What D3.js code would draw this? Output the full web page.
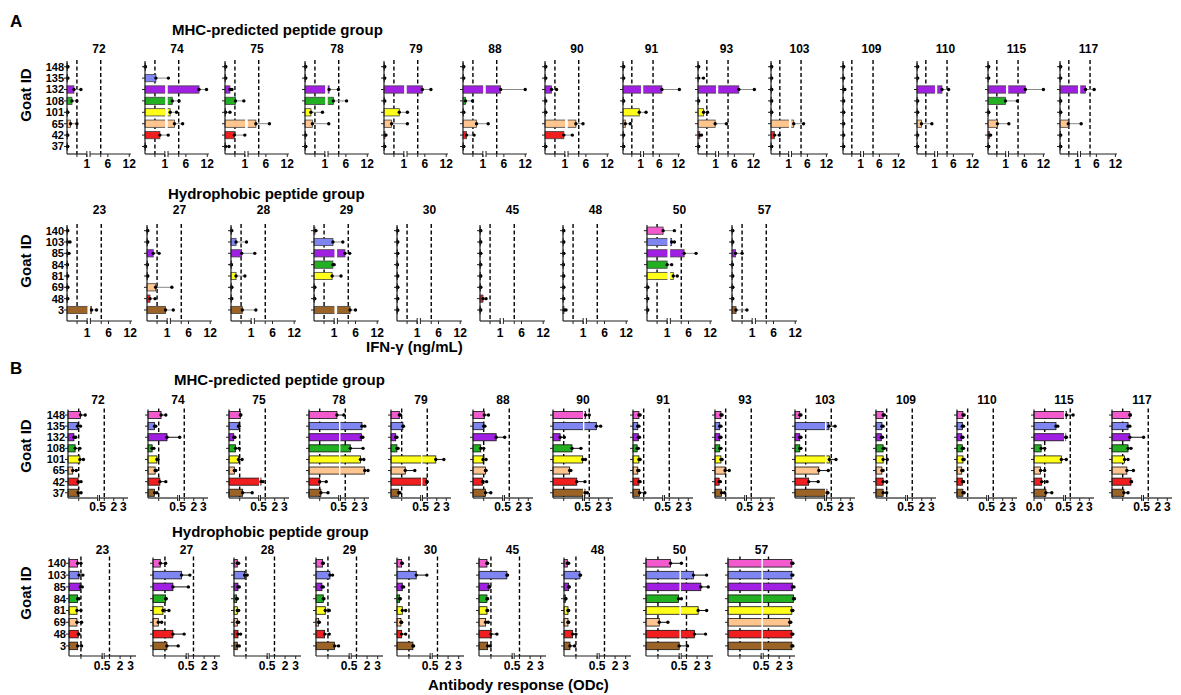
<!DOCTYPE html>
<html>
<head>
<meta charset="utf-8">
<script src="https://cdn.jsdelivr.net/npm/d3@7"></script>
<style>
  body { margin: 0; background: #fff; }
  svg { font-family: Arial, "Liberation Sans", sans-serif; font-weight: bold; }
</style>
</head>
<body>
<svg id="fig" width="1181" height="695"></svg>
<script>
// ---- data ----
const goatsMhc = ["148", "135", "132", "108", "101", "65", "42", "37"]
const goatsHydro = ["140", "103", "85", "84", "81", "69", "48", "3"]
const pepMhc = ["72", "74", "75", "78", "79", "88", "90", "91", "93", "103", "109", "110", "115", "117"]
const pepHydro = ["23", "27", "28", "29", "30", "45", "48", "50", "57"]

const ifnTicks = [1, 6, 12]
const ifnTickLabels = ["1", "6", "12"]
const ifnCutoffs = [0.5, 4]
const odTicks = [0.5, 2, 3]
const odTickLabels = ["0.5", "2", "3"]
const odCutoffs = [0.18, 1.0]
const odZeroLabel = ["115"]

// IFN-γ (ng/mL), one row per peptide, goats in goatsMhc order
const ifnMhcMean = [
  [0.02, 0.02, 0.35, 0.25, 0.02, 0.18, 0.02, 0.02],
  [0.01, 0.55, 9.7, 2.2, 1.6, 2.8, 0.75, 0.01],
  [0.02, 0.02, 0.25, 0.53, 0.03, 3.2, 0.47, 0.03],
  [0.02, 0.02, 1.3, 2.5, 0.3, 0.37, 0.02, 0.02],
  [0.02, 0.02, 5.3, 0.02, 0.77, 0.38, 0.05, 0.02],
  [0.02, 0.02, 5.1, 0.13, 0.02, 0.68, 0.18, 0.02],
  [0.02, 0.02, 0.33, 0.02, 0.02, 3.2, 0.95, 0.02],
  [0.02, 0.02, 6.8, 0.02, 0.92, 0.13, 0.02, 0.02],
  [0.02, 0.03, 7.4, 0.02, 0.32, 0.97, 0.1, 0.02],
  [0.02, 0.02, 0.02, 0.02, 0.02, 1.7, 0.2, 0.02],
  [0.02, 0.02, 0.04, 0.02, 0.02, 0.02, 0.02, 0.02],
  [0.02, 0.02, 2.4, 0.02, 0.02, 0.25, 0.02, 0.02],
  [0.02, 0.02, 6.3, 0.99, 0.02, 0.53, 0.08, 0.02],
  [0.02, 0.02, 2.6, 0.02, 0.02, 0.47, 0.02, 0.02]
]
const ifnMhcHi = [
  [0.05, 0.05, 0.7, 0.5, 0.04, 0.5, 0.04, 0.04],
  [0.02, 1.1, 11.8, 4.1, 3.4, 5.1, 1.05, 0.02],
  [0.04, 0.04, 0.35, 0.95, 0.25, 7.0, 1.0, 0.2],
  [0.04, 0.04, 3.9, 6.2, 0.88, 1.2, 0.04, 0.04],
  [0.04, 0.04, 7.7, 0.04, 1.1, 1.1, 0.1, 0.04],
  [0.04, 0.04, 12, 0.48, 0.04, 1.6, 0.56, 0.04],
  [0.04, 0.04, 0.58, 0.04, 0.04, 5.2, 2.2, 0.04],
  [0.04, 0.04, 12.3, 0.04, 1.8, 0.41, 0.04, 0.04],
  [0.04, 0.31, 12.3, 0.04, 0.54, 3.5, 0.2, 0.04],
  [0.04, 0.04, 0.04, 0.04, 0.04, 4.8, 0.47, 0.04],
  [0.04, 0.04, 0.1, 0.04, 0.04, 0.04, 0.04, 0.04],
  [0.04, 0.04, 4.5, 0.04, 0.04, 0.84, 0.04, 0.04],
  [0.04, 0.04, 12, 3.8, 0.04, 1.1, 0.15, 0.04],
  [0.04, 0.04, 5.3, 0.04, 0.04, 1.2, 0.04, 0.04]
]
const ifnHydroMean = [
  [0.02, 0.03, 0.03, 0.01, 0.02, 0.02, 0.02, 1.3],
  [0.02, 0.02, 0.31, 0.01, 0.02, 0.43, 0.15, 0.92],
  [0.02, 0.25, 0.53, 0.01, 0.25, 0.02, 0.02, 0.56],
  [0.05, 0.94, 3.1, 0.94, 0.9, 0.02, 0.02, 4.5],
  [0.02, 0.02, 0.02, 0.01, 0.02, 0.02, 0.02, 0.02],
  [0.02, 0.02, 0.02, 0.02, 0.02, 0.02, 0.15, 0.02],
  [0.02, 0.02, 0.02, 0.01, 0.02, 0.02, 0.02, 0.05],
  [0.8, 1.35, 4.8, 1.0, 1.8, 0.02, 0.02, 0.02],
  [0.02, 0.02, 0.18, 0.01, 0.02, 0.02, 0.02, 0.2]
]
const ifnHydroHi = [
  [0.04, 0.15, 0.1, 0.02, 0.04, 0.04, 0.04, 2.7],
  [0.04, 0.04, 0.6, 0.02, 0.04, 1.4, 0.4, 1.8],
  [0.04, 0.77, 1.1, 0.02, 0.69, 0.04, 0.04, 1.4],
  [0.1, 2.5, 4.4, 1.0, 2.0, 0.04, 0.04, 6.0],
  [0.04, 0.04, 0.04, 0.02, 0.04, 0.04, 0.04, 0.04],
  [0.04, 0.04, 0.04, 0.04, 0.04, 0.04, 0.3, 0.04],
  [0.04, 0.04, 0.04, 0.02, 0.04, 0.04, 0.04, 0.15],
  [2.1, 2.1, 8.1, 1.35, 2.9, 0.04, 0.04, 0.04],
  [0.04, 0.04, 0.5, 0.02, 0.04, 0.04, 0.04, 0.74]
]

// Antibody response (ODc)
const odMhcMean = [
  [0.21, 0.16, 0.1, 0.12, 0.2, 0.08, 0.17, 0.17],
  [0.22, 0.11, 0.32, 0.07, 0.15, 0.12, 0.2, 0.11],
  [0.19, 0.16, 0.08, 0.11, 0.16, 0.09, 0.55, 0.23],
  [0.47, 2.76, 2.7, 1.54, 2.6, 3.05, 0.18, 0.2],
  [0.14, 0.2, 0.08, 0.1, 1.9, 0.24, 0.94, 0.13],
  [0.19, 0.18, 0.39, 0.13, 0.17, 0.21, 0.16, 0.21],
  [0.6, 1.75, 0.12, 0.32, 0.5, 0.28, 0.4, 0.55],
  [0.1, 0.08, 0.09, 0.07, 0.1, 0.08, 0.1, 0.11],
  [0.1, 0.08, 0.08, 0.08, 0.1, 0.17, 0.07, 0.11],
  [0.08, 0.75, 0.08, 0.08, 0.8, 0.4, 0.23, 0.55],
  [0.12, 0.1, 0.09, 0.12, 0.12, 0.1, 0.12, 0.12],
  [0.1, 0.09, 0.08, 0.09, 0.1, 0.08, 0.09, 0.1],
  [0.6, 0.37, 0.52, 0.12, 0.46, 0.11, 0.13, 0.2],
  [0.3, 0.27, 0.3, 0.27, 0.21, 0.25, 0.32, 0.2]
]
const odMhcHi = [
  [0.29, 0.21, 0.13, 0.2, 0.26, 0.14, 0.22, 0.22],
  [0.3, 0.13, 0.52, 0.1, 0.17, 0.14, 0.3, 0.15],
  [0.2, 0.17, 0.1, 0.17, 0.22, 0.11, 0.76, 0.39],
  [0.85, 3.05, 2.85, 2.87, 2.95, 3.4, 0.29, 0.32],
  [0.16, 0.21, 0.1, 0.12, 2.75, 0.4, 1.0, 0.15],
  [0.26, 0.2, 0.52, 0.18, 0.22, 0.22, 0.23, 0.3],
  [1.0, 2.2, 0.19, 0.47, 0.6, 0.3, 0.55, 0.8],
  [0.12, 0.1, 0.11, 0.09, 0.12, 0.1, 0.12, 0.2],
  [0.12, 0.1, 0.1, 0.1, 0.12, 0.24, 0.09, 0.16],
  [0.1, 1.4, 0.1, 0.1, 1.5, 0.69, 0.39, 0.65],
  [0.14, 0.12, 0.11, 0.14, 0.19, 0.12, 0.18, 0.18],
  [0.12, 0.11, 0.1, 0.11, 0.12, 0.1, 0.11, 0.12],
  [1.3, 0.4, 0.6, 0.18, 0.58, 0.18, 0.22, 0.3],
  [0.31, 0.3, 0.51, 0.32, 0.27, 0.36, 0.33, 0.27]
]
const odHydroMean = [
  [0.13, 0.15, 0.17, 0.13, 0.12, 0.12, 0.14, 0.13],
  [0.11, 0.43, 0.3, 0.19, 0.15, 0.08, 0.3, 0.21],
  [0.05, 0.16, 0.06, 0.04, 0.05, 0.05, 0.06, 0.05],
  [0.1, 0.21, 0.09, 0.11, 0.14, 0.04, 0.13, 0.28],
  [0.07, 0.29, 0.08, 0.04, 0.08, 0.06, 0.07, 0.24],
  [0.12, 0.42, 0.15, 0.12, 0.12, 0.1, 0.18, 0.13],
  [0.05, 0.24, 0.07, 0.02, 0.06, 0.06, 0.13, 0.09],
  [0.37, 1.65, 2.35, 0.49, 2.1, 0.2, 1.75, 0.5],
  [3.2, 3.2, 3.25, 3.35, 3.2, 3.0, 3.2, 3.2]
]
const odHydroHi = [
  [0.18, 0.21, 0.2, 0.15, 0.18, 0.19, 0.15, 0.19],
  [0.19, 0.66, 0.52, 0.2, 0.24, 0.13, 0.47, 0.38],
  [0.07, 0.2, 0.08, 0.05, 0.07, 0.07, 0.1, 0.08],
  [0.11, 0.25, 0.11, 0.12, 0.2, 0.05, 0.2, 0.34],
  [0.08, 0.45, 0.1, 0.05, 0.13, 0.07, 0.13, 0.25],
  [0.13, 0.43, 0.16, 0.13, 0.13, 0.14, 0.27, 0.17],
  [0.07, 0.25, 0.08, 0.03, 0.07, 0.07, 0.18, 0.16],
  [0.52, 2.9, 3.05, 0.52, 2.9, 0.33, 2.8, 1.1],
  [3.3, 3.3, 3.4, 3.45, 3.3, 3.1, 3.3, 3.3]
]

const goatColors = ["#f25acd", "#7f86f2", "#a01fe3", "#22b022", "#ffff1a", "#ffc58e", "#f01e1e", "#9b6326"]

// ---- layout ----
const svg = d3.select('#fig')

const groups = [
  { peps: pepMhc, goats: goatsMhc, mean: ifnMhcMean, hi: ifnMhcHi,
    xs: [67, 145, 225, 305, 384, 463, 545, 623, 698, 771, 843, 917, 988, 1060],
    ws: [64, 64, 64, 64, 64, 64, 64, 57, 57, 57, 57, 57, 57, 57],
    top: 61, step: 11.4, axisY: 154, titleY: 53, tickY: 168,
    brk: 1, max: 12.5, f1: 0.31, f2: 0.36, ticks: ifnTicks, tickLabels: ifnTickLabels,
    cut: ifnCutoffs, err: '#8a8a8a', stroke: '#444' },
  { peps: pepHydro, goats: goatsHydro, mean: ifnHydroMean, hi: ifnHydroHi,
    xs: [67, 147, 231, 314, 397, 480, 563, 647, 732],
    ws: [65, 65, 65, 65, 65, 65, 65, 65, 65],
    top: 225, step: 11.33, axisY: 321, titleY: 214, tickY: 336.5,
    brk: 1, max: 12.5, f1: 0.31, f2: 0.36, ticks: ifnTicks, tickLabels: ifnTickLabels,
    cut: ifnCutoffs, err: '#8a8a8a', stroke: '#444' },
  { peps: pepMhc, goats: goatsMhc, mean: odMhcMean, hi: odMhcHi,
    xs: [68, 148, 229, 309, 391, 473, 553, 633, 715, 795, 876, 957, 1034, 1112],
    ws: [60, 60, 60, 60, 60, 60, 60, 60, 60, 60, 60, 60, 60, 60],
    top: 409.5, step: 11.1, axisY: 498, titleY: 403.5, tickY: 511,
    brk: 0.5, max: 3.5, f1: 0.495, f2: 0.525, ticks: odTicks, tickLabels: odTickLabels,
    cut: odCutoffs, err: '#111', stroke: '#111', zero: odZeroLabel },
  { peps: pepHydro, goats: goatsHydro, mean: odHydroMean, hi: odHydroHi,
    xs: [69, 153, 234, 316, 397, 479, 564, 646, 728],
    ws: [67, 67, 67, 67, 67, 67, 67, 67, 67],
    top: 557.4, step: 11.8, axisY: 656, titleY: 553.5, tickY: 670,
    brk: 0.5, max: 3.5, f1: 0.495, f2: 0.525, ticks: odTicks, tickLabels: odTickLabels,
    cut: odCutoffs, err: '#111', stroke: '#111', zero: odZeroLabel }
]

groups.forEach(cfg => {
  const yScale = d3.scaleBand()
    .domain(cfg.goats)
    .range([cfg.top, cfg.top + cfg.step * cfg.goats.length])
    .paddingInner(0.36)
    .paddingOuter(0.18)
  const bh = yScale.bandwidth()

  cfg.peps.forEach((pep, p) => {
    const x0 = cfg.xs[p], w = cfg.ws[p]
    const xa = d3.scaleLinear().domain([0, cfg.brk]).range([x0, x0 + w * cfg.f1])
    const xb = d3.scaleLinear().domain([cfg.brk, cfg.max]).range([x0 + w * cfg.f2, x0 + w])
    const x = v => v <= cfg.brk ? xa(v) : xb(v)
    const g = svg.append('g')

    // title
    g.append('text')
      .attr('x', x0 + w / 2).attr('y', cfg.titleY)
      .attr('text-anchor', 'middle').attr('font-size', 12)
      .text(pep)

    // dashed cutoff lines
    g.selectAll('line.cut').data(cfg.cut).join('line')
      .attr('class', 'cut')
      .attr('x1', d => x(d)).attr('x2', d => x(d))
      .attr('y1', cfg.top - 1).attr('y2', cfg.axisY)
      .attr('stroke', '#000').attr('stroke-width', 1.4)
      .attr('stroke-dasharray', '4,2.5')

    const rows = cfg.goats.map((goat, i) => ({ goat, i, m: cfg.mean[p][i], h: cfg.hi[p][i] }))

    // error whiskers
    g.selectAll('line.err').data(rows).join('line')
      .attr('class', 'err')
      .attr('x1', d => x(d.m)).attr('x2', d => x(d.h))
      .attr('y1', d => yScale(d.goat) + bh / 2).attr('y2', d => yScale(d.goat) + bh / 2)
      .attr('stroke', cfg.err).attr('stroke-width', 1)

    // bars
    g.selectAll('rect.bar').data(rows).join('rect')
      .attr('class', 'bar')
      .attr('x', x0)
      .attr('y', d => yScale(d.goat))
      .attr('width', d => Math.max(0.6, x(d.m) - x0))
      .attr('height', bh)
      .attr('fill', d => goatColors[d.i])
      .attr('stroke', cfg.stroke).attr('stroke-width', 0.8)

    // white gap where bars cross the axis break
    g.selectAll('rect.gap').data(rows.filter(d => d.m > cfg.brk)).join('rect')
      .attr('class', 'gap')
      .attr('x', xa(cfg.brk) + 0.3)
      .attr('y', d => yScale(d.goat) - 1)
      .attr('width', Math.max(1.4, xb(cfg.brk) - xa(cfg.brk) - 0.6))
      .attr('height', bh + 2)
      .attr('fill', '#fff')

    // points
    const pts = rows.flatMap(d => [{ d, v: d.m }, { d, v: d.h }])
    g.selectAll('circle.pt').data(pts).join('circle')
      .attr('class', 'pt')
      .attr('cx', q => x(q.v))
      .attr('cy', q => yScale(q.d.goat) + bh / 2)
      .attr('r', 1.7)
      .attr('fill', '#000')

    // y axis + ticks
    g.append('line')
      .attr('x1', x0).attr('x2', x0)
      .attr('y1', cfg.top).attr('y2', cfg.axisY)
      .attr('stroke', '#222').attr('stroke-width', 1.2)
    g.selectAll('line.ytick').data(cfg.goats).join('line')
      .attr('class', 'ytick')
      .attr('x1', x0 - 3).attr('x2', x0)
      .attr('y1', d => yScale(d) + bh / 2).attr('y2', d => yScale(d) + bh / 2)
      .attr('stroke', '#222').attr('stroke-width', 1)

    // broken x axis
    const segs = [[x0, xa(cfg.brk)], [xb(cfg.brk), x0 + w]]
    g.selectAll('line.xseg').data(segs).join('line')
      .attr('class', 'xseg')
      .attr('x1', d => d[0]).attr('x2', d => d[1])
      .attr('y1', cfg.axisY).attr('y2', cfg.axisY)
      .attr('stroke', '#222').attr('stroke-width', 1.2)
    g.selectAll('line.brk').data([xa(cfg.brk), xb(cfg.brk)]).join('line')
      .attr('class', 'brk')
      .attr('x1', d => d).attr('x2', d => d)
      .attr('y1', cfg.axisY - 3).attr('y2', cfg.axisY + 3)
      .attr('stroke', '#222').attr('stroke-width', 1)

    let tickVals = cfg.ticks.slice()
    let tickLabs = cfg.tickLabels.slice()
    if (cfg.zero && cfg.zero.includes(pep)) { tickVals.unshift(0); tickLabs.unshift("0.0") }
    g.selectAll('line.xtick').data(tickVals.concat(cfg.cut)).join('line')
      .attr('class', 'xtick')
      .attr('x1', d => x(d)).attr('x2', d => x(d))
      .attr('y1', cfg.axisY).attr('y2', cfg.axisY + 3)
      .attr('stroke', '#222').attr('stroke-width', 1)
    g.selectAll('text.xlab').data(tickVals).join('text')
      .attr('class', 'xlab')
      .attr('x', d => x(d)).attr('y', cfg.tickY)
      .attr('text-anchor', 'middle').attr('font-size', 12)
      .text((d, i) => tickLabs[i])

    // goat labels on the first panel of a row
    if (p === 0) {
      g.selectAll('text.goat').data(cfg.goats).join('text')
        .attr('class', 'goat')
        .attr('x', x0 - 3).attr('y', d => yScale(d) + bh / 2 + 3.9)
        .attr('text-anchor', 'end').attr('font-size', 11)
        .text(d => d)
    }
  })
})

// ---- text ----
const labels = [
  { t: "A", x: 10, y: 27, s: 17 },
  { t: "B", x: 10, y: 374, s: 17 },
  { t: "MHC-predicted peptide group", x: 172, y: 35, s: 15 },
  { t: "Hydrophobic peptide group", x: 168, y: 199, s: 15 },
  { t: "MHC-predicted peptide group", x: 174, y: 385, s: 15 },
  { t: "Hydrophobic peptide group", x: 172, y: 537, s: 15 },
  { t: "IFN-γ (ng/mL)", x: 366, y: 352, s: 15 },
  { t: "Antibody response (ODc)", x: 428, y: 690, s: 15 }
]
svg.selectAll('text.lab').data(labels).join('text')
  .attr('class', 'lab')
  .attr('x', d => d.x).attr('y', d => d.y)
  .attr('font-size', d => d.s)
  .text(d => d.t)

const goatTitles = [95, 261, 446, 593]
svg.selectAll('text.gid').data(goatTitles).join('text')
  .attr('class', 'gid')
  .attr('transform', d => `translate(31,${d}) rotate(-90)`)
  .attr('text-anchor', 'middle').attr('font-size', 15)
  .text('Goat ID')
</script>
</body>
</html>
